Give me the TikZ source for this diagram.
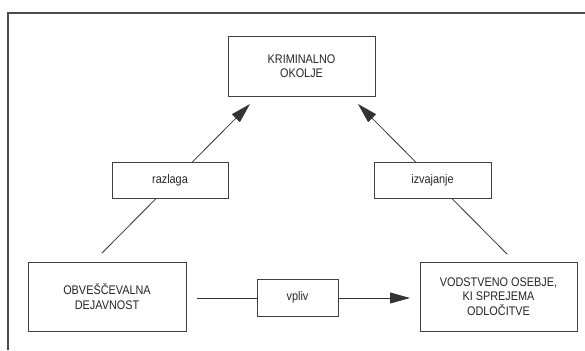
\documentclass[tikz,border=0pt]{standalone}
\usepackage{fontspec}
\setmainfont{Liberation Sans}[FakeStretch=0.87]
\usetikzlibrary{arrows.meta}
\begin{document}
\begin{tikzpicture}[x=1pt,y=-1pt,
  box/.style={draw=black!75, line width=0.8pt, fill=white, inner sep=0pt,
    align=center, font=\fontsize{12.5}{14.5}\selectfont, text=black!85},
  link/.style={draw=black!80, line width=0.8pt},
  flow/.style={link, -{Triangle[length=20pt,width=11pt]}},
  frame/.style={draw=black!70, line width=1.3pt}]
\useasboundingbox (0,0) rectangle (585,350);
% outer frame (open to the right and bottom)
\draw[frame] (585,13) -- (8,13) -- (8,350);

% main boxes
\node[box, minimum width=147pt, minimum height=60pt] (krim) at (301.5,66) {KRIMINALNO\\OKOLJE};
\node[box, minimum width=158pt, minimum height=69pt] (obv) at (107,296.5) {OBVEŠČEVALNA\\DEJAVNOST};
\node[box, minimum width=157pt, minimum height=69pt] (vod) at (498.5,296.5) {VODSTVENO OSEBJE,\\KI SPREJEMA\\ODLOČITVE};

% connector end points
\coordinate (a1) at (102,253);
\coordinate (a2) at (250,104);
\coordinate (b1) at (507,254);
\coordinate (b2) at (358,104);
\coordinate (c1) at (197,298);
\coordinate (c2) at (410,298);

\draw[flow] (a1) -- (a2);
\draw[flow] (b1) -- (b2);
\draw[flow] (c1) -- (c2);

% labels sitting on the connectors
\node[box, minimum width=116pt, minimum height=36pt] (raz) at (170,180) {razlaga};
\node[box, minimum width=117pt, minimum height=36pt] (izv) at (432.5,180) {izvajanje};
\node[box, minimum width=81pt, minimum height=37pt] (vpl) at (297.5,297.5) {vpliv};
\end{tikzpicture}
\end{document}
